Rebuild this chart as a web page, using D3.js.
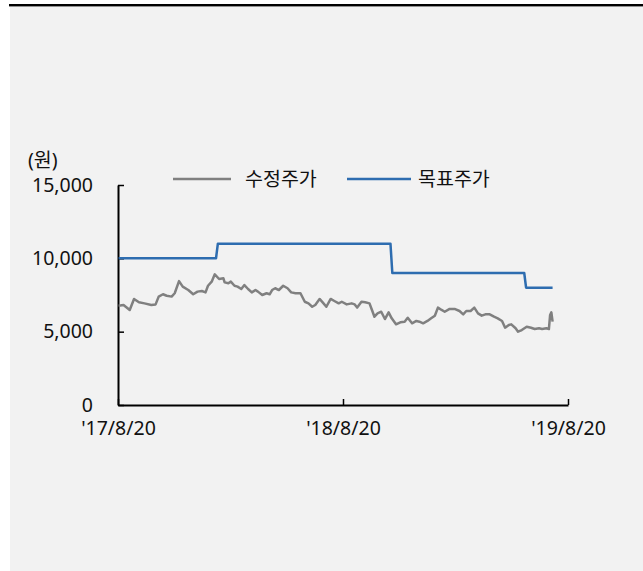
<!DOCTYPE html>
<html>
<head>
<meta charset="utf-8">
<script src="https://cdn.jsdelivr.net/npm/d3@7"></script>
<style>
  html, body { margin: 0; padding: 0; background: #ffffff; }
  svg { display: block; }
  text { font-family: "Noto Sans", "Noto Sans CJK KR", sans-serif; fill: #111; }
</style>
</head>
<body>
<svg id="chart" width="643" height="571"></svg>
<script>
// ---- data ----
const seriesNames = ["수정주가", "목표주가"];
const unitLabel = "(원)";
const yTicks = [0, 5000, 10000, 15000];
const xTickDates = ["2017-08-20", "2018-08-20", "2019-08-20"];
const xTickLabels = ["'17/8/20", "'18/8/20", "'19/8/20"];

const priceDates = ["2017-08-21","2017-08-29","2017-09-08","2017-09-15","2017-09-23","2017-10-02","2017-10-13","2017-10-20","2017-10-25","2017-11-01","2017-11-07","2017-11-15","2017-11-20","2017-11-27","2017-12-03","2017-12-12","2017-12-20","2017-12-27","2018-01-03","2018-01-09","2018-01-13","2018-01-19","2018-01-24","2018-01-31","2018-02-07","2018-02-09","2018-02-15","2018-02-19","2018-02-25","2018-03-02","2018-03-08","2018-03-13","2018-03-19","2018-03-25","2018-03-31","2018-04-04","2018-04-11","2018-04-18","2018-04-23","2018-04-27","2018-05-02","2018-05-08","2018-05-15","2018-05-22","2018-05-28","2018-06-04","2018-06-12","2018-06-19","2018-06-25","2018-07-01","2018-07-06","2018-07-13","2018-07-18","2018-07-24","2018-07-31","2018-08-06","2018-08-13","2018-08-18","2018-08-26","2018-09-03","2018-09-08","2018-09-12","2018-09-19","2018-09-25","2018-10-02","2018-10-06","2018-10-10","2018-10-15","2018-10-21","2018-10-27","2018-11-02","2018-11-07","2018-11-14","2018-11-21","2018-11-28","2018-12-03","2018-12-10","2018-12-17","2018-12-22","2018-12-28","2019-01-04","2019-01-10","2019-01-16","2019-01-21","2019-01-27","2019-02-01","2019-02-09","2019-02-17","2019-02-25","2019-03-03","2019-03-08","2019-03-15","2019-03-21","2019-03-27","2019-04-02","2019-04-08","2019-04-15","2019-04-22","2019-04-28","2019-05-05","2019-05-10","2019-05-16","2019-05-20","2019-05-27","2019-05-31","2019-06-06","2019-06-14","2019-06-21","2019-06-27","2019-07-04","2019-07-09","2019-07-16","2019-07-20","2019-07-22","2019-07-24","2019-07-26"];
const priceValues = [6770,6820,6480,7230,7000,6930,6820,6860,7390,7550,7450,7390,7620,8450,8070,7840,7550,7730,7770,7680,8130,8410,8910,8590,8640,8360,8300,8410,8130,8070,7910,8180,7910,7680,7840,7730,7500,7620,7550,7840,7960,7840,8130,7960,7680,7620,7620,7040,6930,6700,6820,7230,7000,6700,7230,7090,6930,7040,6860,6930,6860,6640,7040,7000,6930,6480,6020,6250,6360,5860,6320,5910,5500,5640,5680,5950,5570,5730,5680,5570,5730,5910,6090,6640,6480,6360,6550,6550,6410,6180,6410,6410,6640,6250,6090,6180,6180,6020,5910,5730,5270,5450,5500,5230,5000,5110,5340,5270,5180,5230,5180,5230,5180,6140,6320,5680];

const targetDates = ["2017-08-21","2018-01-26","2018-01-29","2018-11-05","2018-11-08","2019-06-10","2019-06-13","2019-07-26"];
const targetValues = [10000,10000,11000,11000,9000,9000,8000,8000];

// ---- drawing ----
const FONT = "'Noto Sans', 'Noto Sans CJK KR', sans-serif";
const FS = 19.5;
const parse = d3.timeParse("%Y-%m-%d");
const svg = d3.select("#chart");

svg.append("rect").attr("x", 10).attr("y", 5).attr("width", 633).attr("height", 566).attr("fill", "#f2f2f2");
svg.append("rect").attr("x", 9).attr("y", 4).attr("width", 634).attr("height", 2.4).attr("fill", "#000");

const x = d3.scaleTime().domain([parse(xTickDates[0]), parse(xTickDates[2])]).range([118, 568]);
const y = d3.scaleLinear().domain([0, 15000]).range([405, 185]);

const price = priceDates.map((d, i) => ({ date: parse(d), value: priceValues[i] }));
const target = targetDates.map((d, i) => ({ date: parse(d), value: targetValues[i] }));

const line = d3.line().x(d => x(d.date)).y(d => y(d.value));

// axes
const yAxis = d3.axisLeft(y).tickValues(yTicks).tickSizeInner(-6).tickSizeOuter(0).tickPadding(25)
  .tickFormat(d3.format(","));
const gy = svg.append("g").attr("transform", "translate(118,0)").call(yAxis);

const xAxis = d3.axisBottom(x).tickValues(xTickDates.map(parse)).tickSizeInner(-6).tickSizeOuter(0).tickPadding(16)
  .tickFormat((d, i) => xTickLabels[i]);
const gx = svg.append("g").attr("transform", "translate(0,405)").call(xAxis);

[gy, gx].forEach(g => {
  g.select(".domain").attr("stroke", "#000").attr("stroke-width", 2);
  g.selectAll(".tick line").attr("stroke", "#000").attr("stroke-width", 1.5);
  g.selectAll("text").attr("font-size", FS).attr("fill", "#111").attr("font-family", FONT);
});

svg.append("text").attr("x", 28).attr("y", 167).attr("font-size", FS).attr("font-family", FONT).text(unitLabel);

// lines
svg.append("path").datum(price).attr("d", line).attr("fill", "none")
  .attr("stroke", "#808080").attr("stroke-width", 2.5).attr("stroke-linejoin", "round");
svg.append("path").datum(target).attr("d", line).attr("fill", "none")
  .attr("stroke", "#2E6DB0").attr("stroke-width", 2.5).attr("stroke-linejoin", "round");

// legend
const legend = [
  { name: seriesNames[0], color: "#808080", x1: 173, x2: 231, tx: 245 },
  { name: seriesNames[1], color: "#2E6DB0", x1: 347, x2: 411, tx: 418 }
];
legend.forEach(l => {
  svg.append("line").attr("x1", l.x1).attr("x2", l.x2).attr("y1", 179).attr("y2", 179)
    .attr("stroke", l.color).attr("stroke-width", 2.5);
  svg.append("text").attr("x", l.tx).attr("y", 186).attr("font-size", FS).attr("font-family", FONT).text(l.name);
});
</script>
</body>
</html>
